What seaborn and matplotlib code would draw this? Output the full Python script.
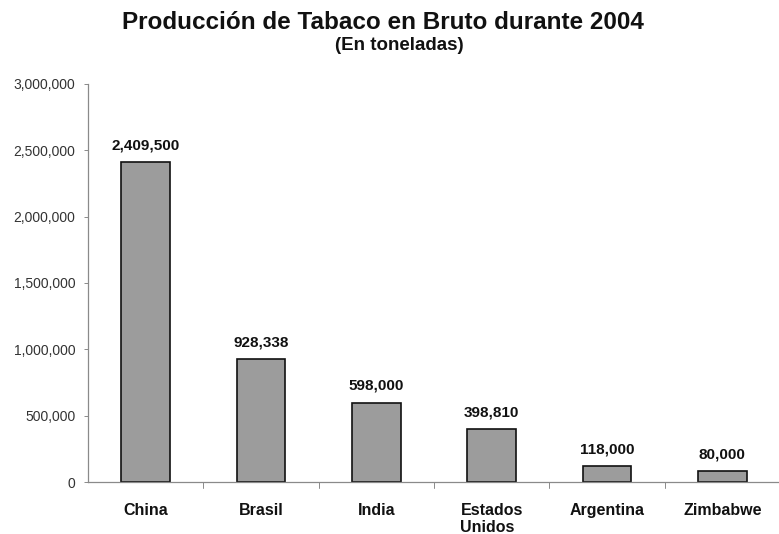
import matplotlib
matplotlib.use("Agg")
import matplotlib.pyplot as plt
import seaborn as sns
import pandas as pd
from matplotlib.ticker import FuncFormatter, MultipleLocator

countries = ["China", "Brasil", "India", "Estados\nUnidos", "Argentina", "Zimbabwe"]
production = [2409500, 928338, 598000, 398810, 118000, 80000]
value_labels = ["2,409,500", "928,338", "598,000", "398,810", "118,000", "80,000"]

sns.set_theme(style="white")
plt.rcParams['font.family'] = ['Liberation Sans', 'DejaVu Sans']

df = pd.DataFrame({"country": countries, "value": production})

fig = plt.figure(figsize=(7.79, 5.34), dpi=100)
ax = fig.add_axes([88/779, 52/534, 692/779, 398/534])

sns.barplot(data=df, x="country", y="value", color="#9c9c9c", width=0.42,
            edgecolor="#111111", linewidth=1.2, saturation=1, ax=ax)

ax.set_ylim(0, 3000000)
ax.set_xlim(-0.5, 5.5)
ax.yaxis.set_major_locator(MultipleLocator(500000))
ax.yaxis.set_major_formatter(FuncFormatter(lambda v, p: f"{int(v):,}"))
ax.set_xlabel("")
ax.set_ylabel("")

for s in ["top", "right"]:
    ax.spines[s].set_visible(False)
for s in ["left", "bottom"]:
    ax.spines[s].set_color("#8a8a8a")
    ax.spines[s].set_linewidth(0.9)
    ax.spines[s].set_linestyle((0, (1, 1)))

ax.tick_params(axis="y", which="both", left=True, length=3, width=0.7, color="#8a8a8a",
               labelsize=10, labelcolor="#333333", pad=6)
ax.tick_params(axis="x", bottom=False, labelsize=11.5, pad=9)
for lbl in ax.get_xticklabels():
    lbl.set_fontweight("bold")
    lbl.set_multialignment("left")
    lbl.set_verticalalignment("top")
    lbl.set_color("#111111")

# boundary ticks on x axis
for b in [0.5, 1.5, 2.5, 3.5, 4.5]:
    ax.plot([b, b], [0, -45000], color="#8a8a8a", lw=0.7, clip_on=False)

for i, (v, t) in enumerate(zip(production, value_labels)):
    ax.annotate(t, (i, v), xytext=(0, 7), textcoords="offset points",
                ha="center", va="bottom", fontsize=11, fontweight="bold", color="#111111")

fig.text(382.5/779, 1 - 29/534, "Producción de Tabaco en Bruto durante 2004",
         ha="center", va="baseline", fontsize=17.5, fontweight="bold", color="#111111")
fig.text(399.5/779, 1 - 50/534, "(En toneladas)",
         ha="center", va="baseline", fontsize=13.5, fontweight="bold", color="#111111")

fig.savefig("out.png", dpi=100)
